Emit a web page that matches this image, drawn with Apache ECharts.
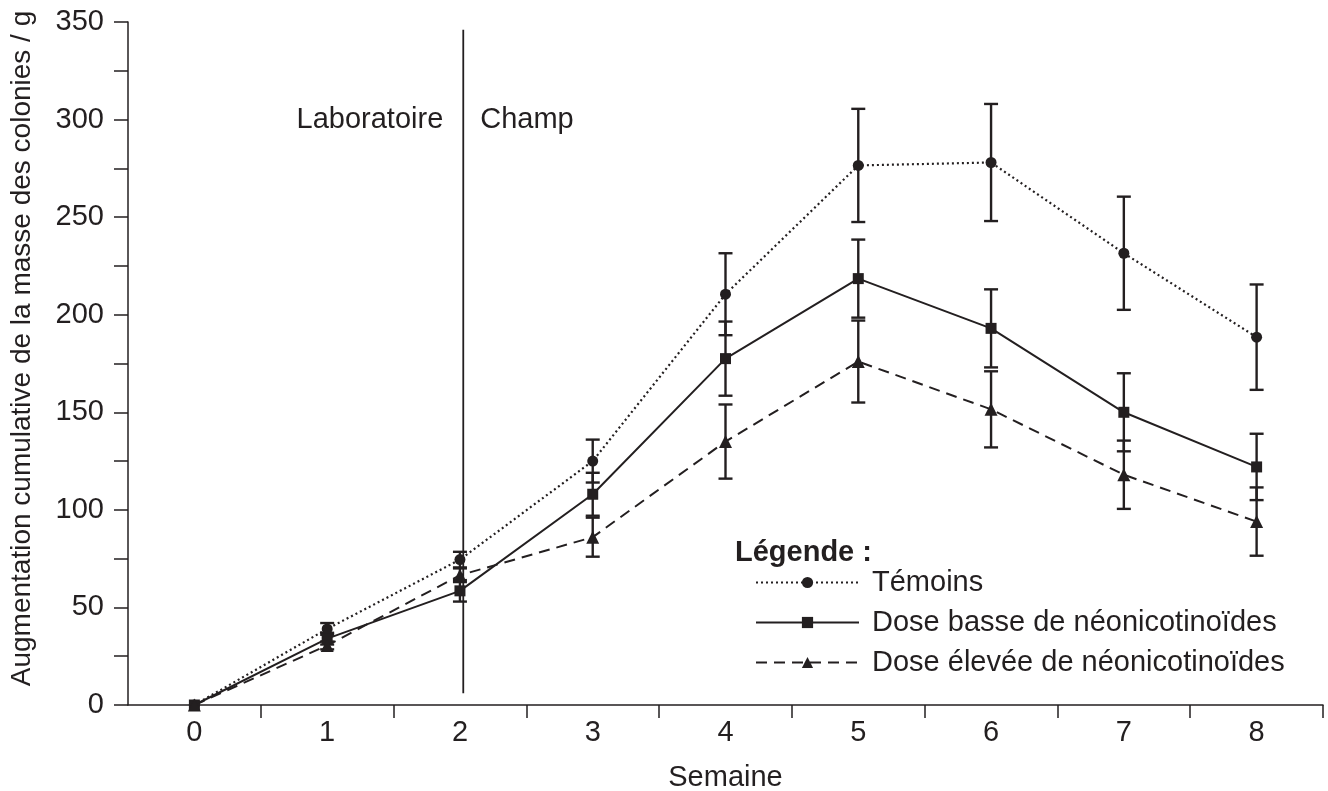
<!DOCTYPE html>
<html><head><meta charset="utf-8">
<script src="https://cdn.jsdelivr.net/npm/echarts@6/dist/echarts.min.js"></script>
<style>html,body{margin:0;padding:0;background:#fff}#c{width:1328px;height:791px}</style>
</head><body><div id="c"></div>
<script>
const weeks = ['0','1','2','3','4','5','6','7','8'];
const temoins = [0, 39, 74.5, 125, 210.5, 276.5, 278, 231.5, 188.5];
const temoinsErr = [0, 3, 4, 11, 21, 29, 30, 29, 27];
const basse = [0, 34, 58.5, 108, 177.5, 218.5, 193, 150, 122];
const basseErr = [0, 3, 5.5, 11, 19, 20, 20, 20, 17];
const elevee = [0, 30.5, 66.5, 86, 135, 176, 151.5, 118, 94];
const eleveeErr = [0, 2, 3.5, 10, 19, 21, 19.5, 17.5, 17.5];
const names = ['Témoins', 'Dose basse de néonicotinoïdes', 'Dose élevée de néonicotinoïdes'];
const dividerX = 2.025;
const dividerSpan = [6, 346];
const zoneLabelY = 300;
const zoneLabels = ['Laboratoire', 'Champ'];

const INK = '#231f20';
const FONT = 'Liberation Sans, Arial, sans-serif';
const FS = 29;

function errData(vals, errs) {
  return vals.map((v, i) => [i, v - errs[i], v + errs[i]]);
}
function errSeries(vals, errs) {
  return {
    type: 'custom', xAxisIndex: 0, yAxisIndex: 0, z: 1, silent: true,
    data: errData(vals, errs),
    renderItem: function (params, api) {
      if (api.value(2) - api.value(1) <= 0) return null;
      const lo = api.coord([api.value(0), api.value(1)]);
      const hi = api.coord([api.value(0), api.value(2)]);
      const w = 7;
      const st = { stroke: INK, lineWidth: 2.4 };
      return { type: 'group', children: [
        { type: 'line', shape: { x1: lo[0], y1: lo[1], x2: hi[0], y2: hi[1] }, style: st },
        { type: 'line', shape: { x1: lo[0] - w, y1: lo[1], x2: lo[0] + w, y2: lo[1] }, style: st },
        { type: 'line', shape: { x1: hi[0] - w, y1: hi[1], x2: hi[0] + w, y2: hi[1] }, style: st }
      ]};
    }
  };
}
function lineSeries(name, vals, symbol, size, type, width) {
  return {
    name: name, type: 'line', xAxisIndex: 0, yAxisIndex: 0, data: vals, z: 3,
    symbol: symbol, symbolSize: size, showAllSymbol: true, clip: false,
    itemStyle: { color: INK },
    lineStyle: { color: INK, width: width, type: type },
    emphasis: { disabled: true }
  };
}

const chart = echarts.init(document.getElementById('c'));
chart.setOption({
  animation: false,
  backgroundColor: '#fff',
  textStyle: { fontFamily: FONT, color: INK },
  grid: { left: 128, right: 5, top: 22, bottom: 86, containLabel: false, outerBoundsMode: 'none' },
  title: {
    left: 735, top: 538, padding: 0,
    text: '{b|Légende}{n| :}',
    textStyle: { rich: {
      b: { fontFamily: FONT, fontSize: FS, fontWeight: 'bold', color: INK },
      n: { fontFamily: FONT, fontSize: FS, color: INK }
    }}
  },
  legend: {
    orient: 'vertical', left: 755, top: 568, padding: 0,
    itemWidth: 103, itemHeight: 14, itemGap: 11,
    textStyle: { fontFamily: FONT, fontSize: FS, lineHeight: 29, color: INK, padding: [0, 0, 0, 8] },
    data: names, selectedMode: false
  },
  xAxis: [{
    type: 'category', data: weeks, boundaryGap: true,
    name: 'Semaine', nameLocation: 'middle', nameGap: 58,
    nameTextStyle: { fontFamily: FONT, fontSize: FS, color: INK },
    axisLine: { show: true, lineStyle: { color: INK, width: 1.5 } },
    axisTick: { show: true, alignWithLabel: false, interval: (i) => i !== 0, length: 13, lineStyle: { color: INK, width: 1.5 } },
    axisLabel: { fontFamily: FONT, fontSize: FS, color: INK, margin: 13 },
    splitLine: { show: false }
  }, {
    type: 'value', min: -0.5, max: 8.5, show: false
  }],
  yAxis: {
    type: 'value', min: 0, max: 350, interval: 25,
    name: 'Augmentation cumulative de la masse des colonies / g',
    nameLocation: 'middle', nameGap: 92,
    nameTextStyle: { fontFamily: FONT, fontSize: 28, color: INK, padding: [0, 0, 0, 30] },
    axisLine: { show: true, onZero: false, lineStyle: { color: INK, width: 1.5 } },
    axisTick: { show: true, length: 14, lineStyle: { color: INK, width: 1.5 } },
    axisLabel: { fontFamily: FONT, fontSize: FS, color: INK, margin: 24,
      formatter: v => (v % 50 === 0 ? String(v) : '') },
    splitLine: { show: false }
  },
  series: [
    errSeries(temoins, temoinsErr),
    errSeries(basse, basseErr),
    errSeries(elevee, eleveeErr),
    lineSeries(names[0], temoins, 'circle', 11, [2, 3], 2.2),
    lineSeries(names[1], basse, 'rect', 11, 'solid', 2),
    lineSeries(names[2], elevee, 'triangle', 13, [11, 7], 2),
    {
      type: 'line', xAxisIndex: 1, yAxisIndex: 0, silent: true, z: 2,
      data: [[dividerX, dividerSpan[0]], [dividerX, dividerSpan[1]]],
      symbol: 'none', lineStyle: { color: INK, width: 1.8 }, clip: false
    },
    {
      type: 'scatter', xAxisIndex: 1, yAxisIndex: 0, silent: true, symbolSize: 0,
      itemStyle: { opacity: 1 },
      data: [
        { value: [dividerX, zoneLabelY], label: { show: true, position: 'left', distance: 20, formatter: zoneLabels[0] } },
        { value: [dividerX, zoneLabelY], label: { show: true, position: 'right', distance: 17, formatter: zoneLabels[1] } }
      ],
      label: { fontFamily: FONT, fontSize: FS, color: INK, opacity: 1 }
    }
  ]
});
</script></body></html>
